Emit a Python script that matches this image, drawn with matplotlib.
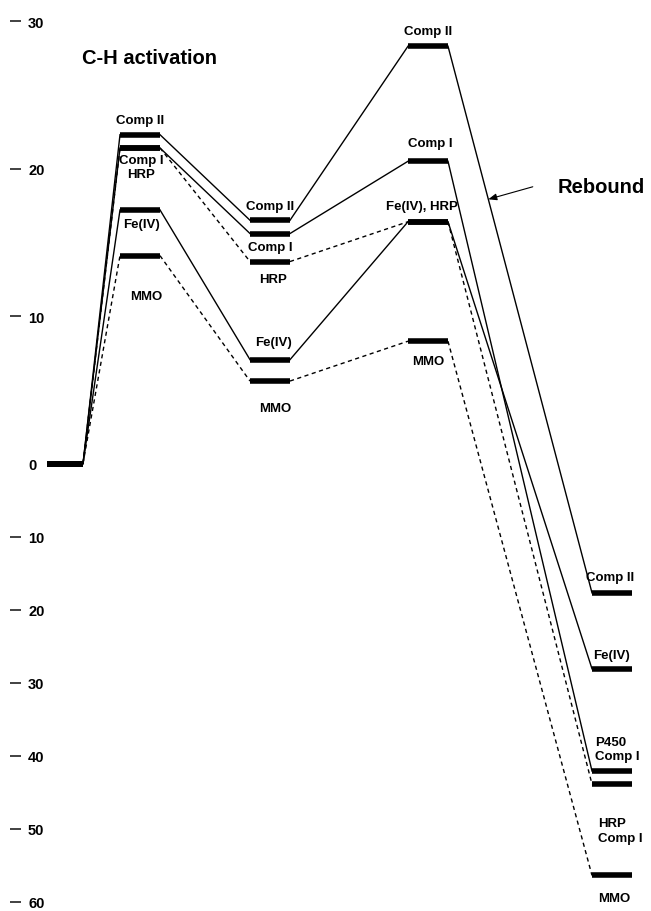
import numpy as np
import matplotlib.pyplot as plt

# energy levels (kcal/mol) along the reaction path, one list per species
stages = ['Reactant', 'TS C-H', 'Intermediate', 'TS rebound', 'Product']
comp2 = [0, 22.3, 16.5, 28.3, -17.7]
comp1 = [0, 21.4, 15.6, 20.5, -42.1]
hrp = [0, 21.4, 13.7, 16.4, -43.9]
fe4 = [0, 17.2, 7.05, 16.4, -28.1]
mmo = [0, 14.1, 5.6, 8.3, -56.4]
yticks = [30, 20, 10, 0, -10, -20, -30, -40, -50, -60]

plt.rcParams['font.family'] = ['Liberation Sans', 'DejaVu Sans']
plt.rcParams['font.weight'] = 'bold'

# layout: column centres and half widths of the level bars (x in pixels)
stage_x = [65, 140, 270, 428, 612]
half = [18, 20, 20, 20, 20]
dashed = (0, (3, 2.5))
NEG = 0.495  # the negative half of the axis is drawn at about half scale


def fwd(y):
    y = np.asarray(y, float)
    return np.where(y >= 0, y, y * NEG)


def inv(t):
    t = np.asarray(t, float)
    return np.where(t >= 0, t, t / NEG)


fig = plt.figure(figsize=(6.51, 9.12), dpi=100)
ax = fig.add_axes([10 / 651, 0, 641 / 651, 1])
ax.set_yscale('function', functions=(fwd, inv))
ax.set_xlim(10, 651)
ax.set_ylim(-61.27, 31.5)

series = [(comp2, '-'), (comp1, '-'), (hrp, dashed), (fe4, '-'), (mmo, dashed)]
for levels, ls in series:
    for i in range(len(levels) - 1):
        ax.plot([stage_x[i] + half[i], stage_x[i + 1] - half[i + 1]],
                [levels[i], levels[i + 1]], color='black', lw=1.0, linestyle=ls)
    for i, v in enumerate(levels):
        ax.plot([stage_x[i] - half[i], stage_x[i] + half[i]], [v, v],
                color='black', lw=4, solid_capstyle='butt')

# level labels: text, stage, level, dx, dy (pixels), alignment
labels = [
    ('Comp II', 1, comp2[1], 0, 15, 'center'),
    ('Comp I\nHRP', 1, comp1[1], 1, -19, 'center'),
    ('Fe(IV)', 1, fe4[1], 2, -14, 'center'),
    ('MMO', 1, mmo[1], 6, -40, 'center'),
    ('Comp II', 2, comp2[2], 0, 14, 'center'),
    ('Comp I', 2, comp1[2], 0, -13, 'center'),
    ('HRP', 2, hrp[2], 3, -17, 'center'),
    ('Fe(IV)', 2, fe4[2], 3, 18, 'center'),
    ('MMO', 2, mmo[2], 5, -27, 'center'),
    ('Comp II', 3, comp2[3], 0, 15, 'center'),
    ('Comp I', 3, comp1[3], 2, 18, 'center'),
    ('Fe(IV), HRP', 3, fe4[3], -6, 16, 'center'),
    ('MMO', 3, mmo[3], 0, -20, 'center'),
    ('Comp II', 4, comp2[4], -2, 16, 'center'),
    ('Fe(IV)', 4, fe4[4], 0, 14, 'center'),
    ('P450\nComp I', 4, comp1[4], -17, 22, 'left'),
    ('HRP\nComp I', 4, hrp[4], -14, -46, 'left'),
    ('MMO', 4, mmo[4], -14, -23, 'left'),
]
for text, s, v, dx, dy, ha in labels:
    ax.annotate(text, xy=(stage_x[s], v), xytext=(dx * 0.72, dy * 0.72),
                textcoords='offset points', ha=ha, va='center',
                fontsize=9.5, fontweight='bold', linespacing=1.3)

# Rebound arrow pointing at the Comp II descent
x0, x1 = stage_x[3] + half[3], stage_x[4] - half[4]
t = 0.28
hx = x0 + t * (x1 - x0)
hy = float(inv(fwd(comp2[3]) + t * (fwd(comp2[4]) - fwd(comp2[3]))))
ax.annotate('', xy=(hx, hy), xytext=(32, 9), textcoords='offset points',
            arrowprops=dict(arrowstyle='-|>,head_length=0.5,head_width=0.2',
                            color='black', lw=0.8, shrinkA=0, shrinkB=0))
ax.annotate('Rebound', xy=(hx, hy), xytext=(50, 9), textcoords='offset points',
            ha='left', va='center', fontsize=14.5, fontweight='bold')

fig.text(149 / 651, 1 - 58 / 912, 'C-H activation', ha='center', va='center',
         fontsize=14.5, fontweight='bold')

ax.set_yticks(yticks, [str(abs(v)) for v in yticks])
ax.tick_params(axis='y', direction='in', length=8, width=1.3, color='#333333',
               pad=-13, labelsize=10.5)
for lbl in ax.get_yticklabels():
    lbl.set_ha('left')
ax.yaxis.get_major_ticks()[yticks.index(0)].tick1line.set_visible(False)
ax.set_xticks([])
for sp in ax.spines.values():
    sp.set_visible(False)

fig.savefig('out.png', dpi=100)
